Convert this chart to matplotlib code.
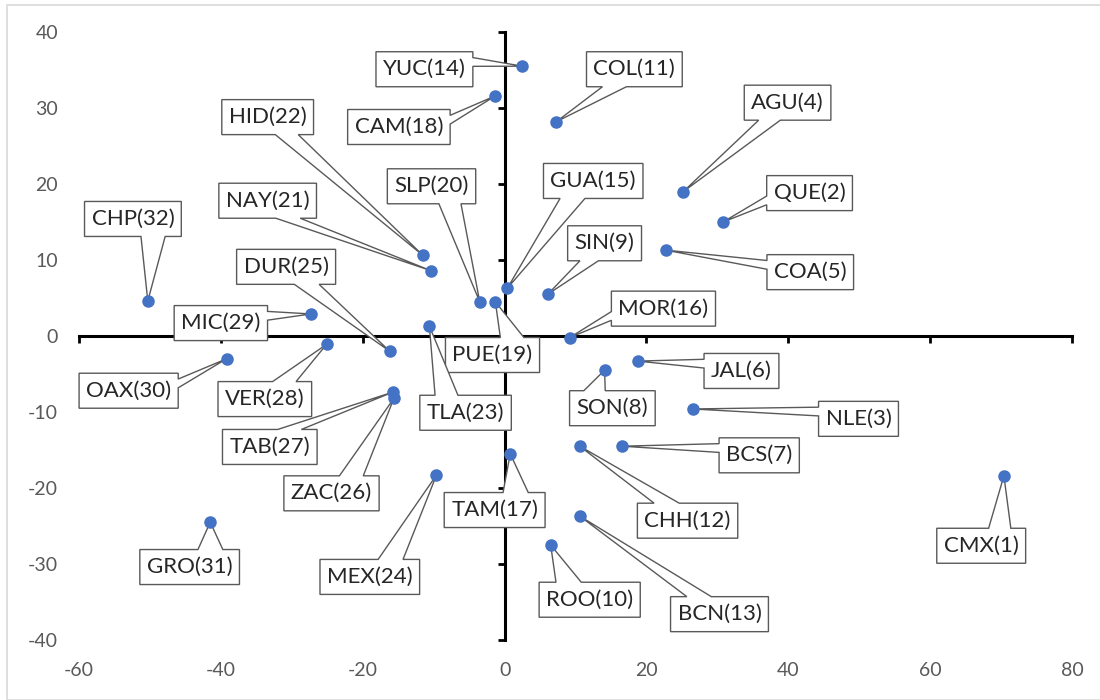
import matplotlib.pyplot as plt
from matplotlib.patches import Rectangle, Polygon

plt.rcParams['font.family'] = ['Lato', 'DejaVu Sans']
plt.rcParams['axes.unicode_minus'] = False

# estados, rango y coordenadas (componente 1, componente 2)
states = ['CMX', 'QUE', 'NLE', 'AGU', 'COA', 'JAL', 'BCS', 'SON', 'SIN', 'ROO',
          'COL', 'CHH', 'BCN', 'YUC', 'GUA', 'MOR', 'TAM', 'CAM', 'PUE', 'SLP',
          'NAY', 'HID', 'TLA', 'MEX', 'DUR', 'ZAC', 'TAB', 'VER', 'MIC', 'OAX',
          'GRO', 'CHP']
ranks = list(range(1, 33))
pc1 = [70.4, 30.8, 26.5, 25.2, 22.7, 18.8, 16.6, 14.1, 6.1, 6.5,
       7.3, 10.6, 10.6, 2.5, 0.4, 9.2, 0.8, -1.3, -1.3, -3.5,
       -10.4, -11.5, -10.6, -9.6, -16.2, -15.6, -15.8, -25.1, -27.3, -39.2,
       -41.5, -50.3]
pc2 = [-18.4, 15.0, -9.6, 19.0, 11.3, -3.3, -14.5, -4.5, 5.5, -27.5,
       28.2, -14.5, -23.7, 35.5, 6.3, -0.2, -15.5, 31.6, 4.5, 4.5,
       8.6, 10.6, 1.3, -18.3, -2.0, -8.2, -7.4, -1.1, 2.9, -3.0,
       -24.5, 4.6]

xticks = list(range(-60, 81, 20))
yticks = list(range(-40, 41, 10))

# donde va cada etiqueta (centro de la caja)
label_pos = [(67.2, -27.6), (43.0, 18.8), (49.9, -10.9), (39.9, 30.7), (43.1, 8.4),
             (33.4, -4.6), (35.9, -15.7), (15.2, -9.5), (14.1, 12.2), (12.0, -34.7),
             (18.3, 35.1), (25.8, -24.3), (30.3, -36.6), (-11.3, 35.1), (12.5, 20.4),
             (22.4, 3.6), (-1.4, -22.9), (-14.9, 27.5), (-1.7, -2.5), (-10.3, 19.7),
             (-33.4, 17.8), (-33.4, 28.8), (-5.5, -10.1), (-19.0, -31.7), (-30.8, 9.1),
             (-24.4, -20.7), (-33.1, -14.6), (-33.8, -8.3), (-40.0, 1.7), (-53.0, -7.2),
             (-44.4, -30.4), (-52.4, 15.4)]

fig = plt.figure(figsize=(11, 7), dpi=100)
ax = fig.add_axes([79 / 1100, 1 - 640 / 700, (1072 - 79) / 1100, (640 - 32) / 700])

# borde gris del area del grafico
fig.patches.append(Rectangle((7 / 1100, 0), 1.2, 1 - 5 / 700, transform=fig.transFigure,
                             fill=False, ec='#d9d9d9', lw=1.2))

ax.set_xlim(-60, 80)
ax.set_ylim(-40, 40)
for s in ['top', 'right']:
    ax.spines[s].set_visible(False)
for s in ['left', 'bottom']:
    ax.spines[s].set_position(('data', 0))
    ax.spines[s].set_linewidth(2.2)
    ax.spines[s].set_zorder(1)
ax.set_xticks(xticks)
ax.set_yticks(yticks)
ax.tick_params(direction='out', length=5, width=2, labelbottom=False, labelleft=False)

secx = ax.secondary_xaxis(0)
secx.set_xticks(xticks)
secx.spines['bottom'].set_visible(False)
secx.tick_params(length=0, pad=16, labelsize=14, labelcolor='#595959')
secy = ax.secondary_yaxis(0)
secy.set_yticks(yticks)
secy.spines['left'].set_visible(False)
secy.tick_params(length=0, pad=15, labelsize=14, labelcolor='#595959')

ax.scatter(pc1, pc2, s=64, color='#4472C4', zorder=20)

# etiquetas tipo "llamada" de Excel: caja con cuña hacia el punto
renderer = fig.canvas.get_renderer()
inv = ax.transData.inverted()
pad_x, pad_y = 7, 7.5
for i, (st, r, x, y, (lx, ly)) in enumerate(zip(states, ranks, pc1, pc2, label_pos)):
    z = 5 + i * 0.01
    t = ax.text(lx, ly, f'{st}({r})', ha='center', va='center', fontsize=16,
                color='#262626', zorder=z + 0.005)
    bb = t.get_window_extent(renderer)
    x0, x1 = bb.x0 - pad_x, bb.x1 + pad_x
    y0, y1 = bb.y0 - pad_y, bb.y1 + pad_y
    w, h = x1 - x0, y1 - y0
    cx, cy = (x0 + x1) / 2, (y0 + y1) / 2
    px, py = ax.transData.transform((x, y))
    dx, dy = px - cx, py - cy
    tip = (px, py)
    if abs(dx) / w > abs(dy) / h:
        side = 'right' if dx > 0 else 'left'
        a, b = (2 / 12, 5 / 12) if dy > 0 else (7 / 12, 10 / 12)
    else:
        side = 'top' if dy > 0 else 'bottom'
        a, b = (2 / 12, 5 / 12) if dx < 0 else (7 / 12, 10 / 12)
    pts = [(x0, y1)]
    if side == 'top':
        pts += [(x0 + a * w, y1), tip, (x0 + b * w, y1)]
    pts.append((x1, y1))
    if side == 'right':
        pts += [(x1, y1 - a * h), tip, (x1, y1 - b * h)]
    pts.append((x1, y0))
    if side == 'bottom':
        pts += [(x0 + b * w, y0), tip, (x0 + a * w, y0)]
    pts.append((x0, y0))
    if side == 'left':
        pts += [(x0, y1 - b * h), tip, (x0, y1 - a * h)]
    ax.add_patch(Polygon(inv.transform(pts), closed=True, fc='white', ec='#595959',
                         lw=1, zorder=z, clip_on=False))

fig.savefig('out.png', dpi=100)
